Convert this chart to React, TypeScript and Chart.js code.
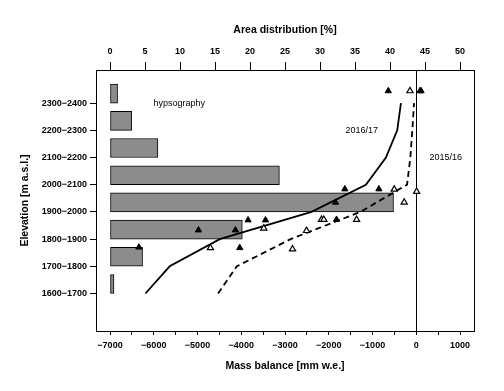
import React, { useEffect, useRef } from "react";
import { Chart, registerables } from "chart.js";

Chart.register(...registerables);

// ---- data ----
const bandCenters = [1650, 1750, 1850, 1950, 2050, 2150, 2250, 2350];
const bandLabels = [
  "1600−1700",
  "1700−1800",
  "1800−1900",
  "1900−2000",
  "2000−2100",
  "2100−2200",
  "2200−2300",
  "2300−2400",
];
const areaPct = [0.57, 4.65, 18.9, 40.5, 24.2, 6.85, 3.09, 1.08];
const mb1617 = [-6190, -5636, -4492, -2394, -1151, -693, -435, -350];
const mb1516 = [-4530, -4100, -2870, -1280, -210, -135, -90, -50];

const stakes1617X = [-6339, -4977, -4133, -4034, -3844, -3446, -1844, -1822, -1632, -854, -640, 85, 110];
const stakes1617Y = [1820, 1883, 1883, 1818, 1920, 1920, 1985, 1922, 2034, 2034, 2395, 2395, 2395];
const stakes1516X = [-4705, -3485, -2828, -2508, -2165, -2112, -1364, -503, -275, 9, -144];
const stakes1516Y = [1818, 1890, 1813, 1881, 1922, 1922, 1922, 2033, 1985, 2025, 2395];

const massTicks = [-7000, -6500, -6000, -5500, -5000, -4500, -4000, -3500, -3000, -2500, -2000, -1500, -1000, -500, 0, 500, 1000];
const massLabelStep = 1000;
const areaTicks = [0, 5, 10, 15, 20, 25, 30, 35, 40, 45, 50];

const massRange = [-7320, 1320];
const areaRange = [-2, 52];
const elevRange = [1512, 2472];
const zeroLine = 0;

const labelHyps = { text: "hypsography", area: 9.9, elev: 2350 };
const label1617 = { text: "2016/17", mass: -1245, elev: 2250 };
const label1516 = { text: "2015/16", mass: 673, elev: 2150 };

const FONT = "'Liberation Sans', Arial, sans-serif";

export default function App() {
  const ref = useRef<HTMLCanvasElement | null>(null);

  useEffect(() => {
    if (!ref.current) return;

    const framePlugin = {
      id: "frame",
      beforeDatasetsDraw(chart: any) {
        const { ctx, chartArea: a, scales } = chart;
        ctx.save();
        ctx.strokeStyle = "#000";
        ctx.lineWidth = 1;
        const zx = Math.round(scales.x.getPixelForValue(zeroLine)) + 0.5;
        ctx.beginPath();
        ctx.moveTo(zx, a.top);
        ctx.lineTo(zx, a.bottom);
        ctx.stroke();
        ctx.restore();
      },
      afterDraw(chart: any) {
        const { ctx, chartArea: a, scales } = chart;
        ctx.save();
        ctx.strokeStyle = "#000";
        ctx.lineWidth = 1;
        ctx.strokeRect(a.left + 0.5, a.top + 0.5, a.right - a.left, a.bottom - a.top);
        ctx.fillStyle = "#000";
        ctx.font = `9px ${FONT}`;
        ctx.textAlign = "center";
        ctx.textBaseline = "middle";
        ctx.fillText(labelHyps.text, scales.x2.getPixelForValue(labelHyps.area), scales.y.getPixelForValue(labelHyps.elev));
        ctx.fillText(label1617.text, scales.x.getPixelForValue(label1617.mass), scales.y.getPixelForValue(label1617.elev));
        ctx.fillText(label1516.text, scales.x.getPixelForValue(label1516.mass), scales.y.getPixelForValue(label1516.elev));
        ctx.restore();
      },
    };

    const tickFont = { family: FONT, size: 9, weight: "bold" as const };
    const titleFont = { family: FONT, size: 10.5, weight: "bold" as const };

    const chart = new Chart(ref.current, {
      type: "scatter",
      data: {
        datasets: [
          {
            type: "bar",
            label: "hypsography",
            indexAxis: "y",
            xAxisID: "x2",
            yAxisID: "y",
            data: bandCenters.map((e, i) => ({ x: areaPct[i], y: e })),
            backgroundColor: "#8c8c8c",
            borderColor: "#000",
            borderWidth: 1,
            borderSkipped: false,
            barThickness: 19,
            order: 10,
          } as any,
          {
            type: "line",
            label: "2016/17",
            xAxisID: "x",
            yAxisID: "y",
            data: bandCenters.map((e, i) => ({ x: mb1617[i], y: e })),
            borderColor: "#000",
            borderWidth: 1.8,
            pointRadius: 0,
            fill: false,
            tension: 0,
            order: 5,
          },
          {
            type: "line",
            label: "2015/16",
            xAxisID: "x",
            yAxisID: "y",
            data: bandCenters.map((e, i) => ({ x: mb1516[i], y: e })),
            borderColor: "#000",
            borderWidth: 1.8,
            borderDash: [6, 4],
            pointRadius: 0,
            fill: false,
            tension: 0,
            order: 5,
          },
          {
            type: "scatter",
            label: "stakes 2016/17",
            xAxisID: "x",
            yAxisID: "y",
            data: stakes1617X.map((x, i) => ({ x, y: stakes1617Y[i] })),
            pointStyle: "triangle",
            pointRadius: 3.6,
            backgroundColor: "#000",
            borderColor: "#000",
            borderWidth: 1,
            order: 1,
          },
          {
            type: "scatter",
            label: "stakes 2015/16",
            xAxisID: "x",
            yAxisID: "y",
            data: stakes1516X.map((x, i) => ({ x, y: stakes1516Y[i] })),
            pointStyle: "triangle",
            pointRadius: 3.6,
            backgroundColor: "#fff",
            borderColor: "#000",
            borderWidth: 1.2,
            order: 1,
          },
        ],
      },
      options: {
        responsive: false,
        animation: false,
        events: [],
        layout: { padding: { left: 0, top: 0, bottom: 0, right: 30 } },
        plugins: {
          legend: { display: false },
          tooltip: { enabled: false },
        },
        scales: {
          x: {
            type: "linear",
            position: "bottom",
            offset: false,
            min: massRange[0],
            max: massRange[1],
            afterBuildTicks: (s: any) => {
              s.ticks = massTicks.map((v) => ({ value: v }));
            },
            afterFit: (s: any) => {
              s.height = 60;
            },
            ticks: {
              autoSkip: false,
              maxRotation: 0,
              padding: 5,
              color: "#000",
              font: tickFont,
              callback: (v: any) => (Number(v) % massLabelStep === 0 ? String(v).replace("-", "−") : ""),
            },
            grid: { offset: false, drawOnChartArea: false, tickLength: 4, color: "#000", tickColor: "#000" },
            border: { display: false },
            title: {
              display: true,
              text: "Mass balance [mm w.e.]",
              color: "#000",
              font: titleFont,
              padding: { top: 0, bottom: 19 },
            },
          },
          x2: {
            type: "linear",
            position: "top",
            offset: false,
            min: areaRange[0],
            max: areaRange[1],
            afterBuildTicks: (s: any) => {
              s.ticks = areaTicks.map((v) => ({ value: v }));
            },
            afterFit: (s: any) => {
              s.height = 70;
            },
            ticks: {
              autoSkip: false,
              maxRotation: 0,
              padding: 5,
              color: "#000",
              font: tickFont,
              callback: (v: any) => String(v),
            },
            grid: { offset: false, drawOnChartArea: false, tickLength: 8, color: "#000", tickColor: "#000" },
            border: { display: false },
            title: {
              display: true,
              text: "Area distribution [%]",
              color: "#000",
              font: titleFont,
              padding: { top: 24, bottom: 0 },
            },
          },
          y: {
            type: "linear",
            position: "left",
            offset: false,
            min: elevRange[0],
            max: elevRange[1],
            afterBuildTicks: (s: any) => {
              s.ticks = bandCenters.map((v) => ({ value: v }));
            },
            afterFit: (s: any) => {
              s.width = 96;
            },
            ticks: {
              autoSkip: false,
              padding: 3,
              color: "#000",
              font: tickFont,
              callback: (v: any) => {
                const i = bandCenters.indexOf(Number(v));
                return i >= 0 ? bandLabels[i] : "";
              },
            },
            grid: { offset: false, drawOnChartArea: false, tickLength: 6, color: "#000", tickColor: "#000" },
            border: { display: false },
            title: {
              display: true,
              text: "Elevation [m a.s.l.]",
              color: "#000",
              font: titleFont,
              padding: { top: 19, bottom: 0 },
            },
          },
        },
      },
      plugins: [framePlugin],
    } as any);

    return () => chart.destroy();
  }, []);

  return (
    <div style={{ position: "absolute", left: 0, top: 0, width: 504, height: 391, background: "#fff" }}>
      <canvas ref={ref} width={504} height={391} style={{ display: "block", width: 504, height: 391 }} />
    </div>
  );
}
